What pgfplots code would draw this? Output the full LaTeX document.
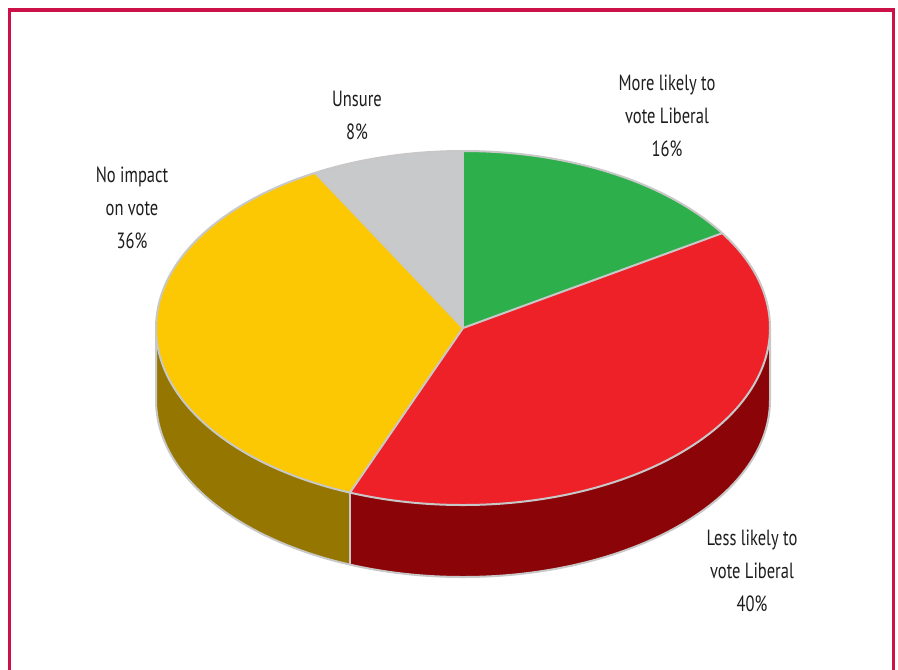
\documentclass[border=0pt]{standalone}
\usepackage{fontspec}
\setmainfont{PT Sans}[FakeStretch=0.75]
\usepackage{pgfplots}
\usepackage{pgfplotstable}
\pgfplotsset{compat=1.18}
\definecolor{pgreen}{RGB}{45,176,76}
\definecolor{pred}{RGB}{238,33,41}
\definecolor{pyellow}{RGB}{252,200,4}
\definecolor{pgray}{RGB}{200,201,203}
\definecolor{predD}{RGB}{139,4,7}
\definecolor{pyellowD}{RGB}{148,118,0}
\definecolor{pline}{RGB}{200,200,200}
\definecolor{frame}{RGB}{204,16,72}
\definecolor{ptext}{RGB}{30,28,28}
\pgfplotstableread{
label value
More 16
Less 40
NoImpact 36
Unsure 8
}\piedata
\begin{document}
\begin{tikzpicture}
\pgfplotstablegetelem{0}{value}\of\piedata \pgfmathparse{90-3.6*\pgfplotsretval}\xdef\aB{\pgfmathresult}
\pgfplotstablegetelem{1}{value}\of\piedata \pgfmathparse{\aB-3.6*\pgfplotsretval}\xdef\aC{\pgfmathresult}
\pgfplotstablegetelem{2}{value}\of\piedata \pgfmathparse{\aC-3.6*\pgfplotsretval}\xdef\aD{\pgfmathresult}
\pgfplotstablegetelem{3}{value}\of\piedata \pgfmathparse{\aD-3.6*\pgfplotsretval}\xdef\aE{\pgfmathresult}
\xdef\aA{90}
\tikzset{er/.style={x radius=153.5pt, y radius=88.5pt}}
\begin{axis}[width=449pt,height=334.5pt,scale only axis,
  xmin=0,xmax=898,ymin=0,ymax=669,y dir=reverse,
  axis lines=none, clip=true]
\path (axis cs:0,0) rectangle (axis cs:898,669);
% frame
\draw[frame, line width=1.6pt] (axis cs:9.5,672) -- (axis cs:9.5,10) -- (axis cs:893.8,10) -- (axis cs:893.8,672);
% sides
\fill[predD] (axis cs:463,328) ++(\aC:153.5pt and 88.5pt) arc[start angle=\aC, end angle=0, er]
  -- ++(0pt,-36pt) arc[start angle=0, end angle=\aC, er] -- cycle;
\fill[pyellowD] (axis cs:463,328) ++(-180:153.5pt and 88.5pt) arc[start angle=-180, end angle=\aC, er]
  -- ++(0pt,-36pt) arc[start angle=\aC, end angle=-180, er] -- cycle;
\draw[pline, line width=1pt] (axis cs:463,328) ++(-180:153.5pt and 88.5pt) -- ++(0pt,-36pt)
  arc[start angle=-180, end angle=0, er] -- ++(0pt,36pt);
\draw[pline, line width=1pt] (axis cs:463,328) ++(\aC:153.5pt and 88.5pt) -- ++(0pt,-36pt);
% top
\fill[pgreen] (axis cs:463,328) -- ++(\aA:153.5pt and 88.5pt) arc[start angle=\aA, end angle=\aB, er] -- cycle;
\fill[pred] (axis cs:463,328) -- ++(\aB:153.5pt and 88.5pt) arc[start angle=\aB, end angle=\aC, er] -- cycle;
\fill[pyellow] (axis cs:463,328) -- ++(\aC:153.5pt and 88.5pt) arc[start angle=\aC, end angle=\aD, er] -- cycle;
\fill[pgray] (axis cs:463,328) -- ++(\aD:153.5pt and 88.5pt) arc[start angle=\aD, end angle=\aE, er] -- cycle;
\draw[pline, line width=1pt] (axis cs:463,328) ellipse[er];
\draw[pline, line width=1pt] (axis cs:463,328) -- ++(\aA:153.5pt and 88.5pt);
\draw[pline, line width=1pt] (axis cs:463,328) -- ++(\aB:153.5pt and 88.5pt);
\draw[pline, line width=1pt] (axis cs:463,328) -- ++(\aC:153.5pt and 88.5pt);
\draw[pline, line width=1pt] (axis cs:463,328) -- ++(\aD:153.5pt and 88.5pt);
% labels
\tikzset{lab/.style={align=center, text=ptext, font=\fontsize{11}{16.5}\selectfont, inner sep=0pt}}
\node[lab] at (axis cs:667,116) {More likely to\\vote Liberal\\16\%};
\node[lab] at (axis cs:752,571) {Less likely to\\vote Liberal\\40\%};
\node[lab] at (axis cs:132,208) {No impact\\on vote\\36\%};
\node[lab] at (axis cs:357,115) {Unsure\\8\%};
\end{axis}
\end{tikzpicture}
\end{document}
